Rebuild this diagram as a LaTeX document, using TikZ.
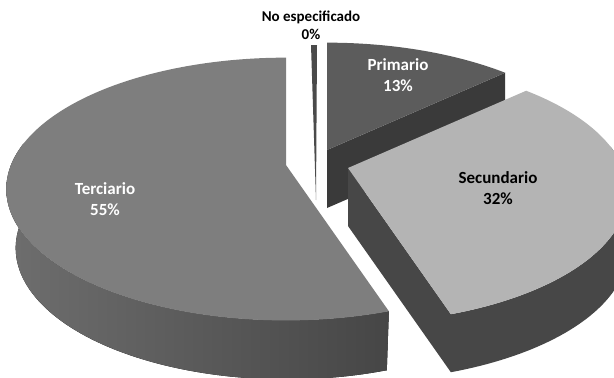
\documentclass[tikz,border=0pt]{standalone}
\usepackage{fontspec}
\setmainfont{Carlito}
\definecolor{tertop}{HTML}{7E7E7E}
\definecolor{tersideA}{HTML}{6E6E6E}
\definecolor{tersideB}{HTML}{464646}
\definecolor{pritop}{HTML}{5C5C5C}
\definecolor{priside}{HTML}{3A3A3A}
\definecolor{sectop}{HTML}{B4B4B4}
\definecolor{secside}{HTML}{474747}
\definecolor{nesp}{HTML}{4A4A4A}
\begin{document}
\begin{tikzpicture}[x=1pt,y=-1pt,
  declare function={
    rimx(\t)=275*cos(\t)/(1+0.183*sin(\t));
    rimy(\t)=-127*sin(\t)/(1+0.183*sin(\t));
  },
  lbl/.style={font=\bfseries\fontsize{17}{21}\selectfont,align=center,inner sep=0pt},
  smalllbl/.style={font=\bfseries\fontsize{15}{18}\selectfont,align=center,inner sep=0pt}]
  \useasboundingbox (0,0) rectangle (614,378);
  \clip (0,0) rectangle (614,378);
  % no especificado: thin sliver at 90 deg
  \fill[nesp] (311,45) -- (317,45) -- (316,200) -- cycle;
  % primario: cut face at 43.2 deg, top
  \fill[priside] (327,150) -- ({327+rimx(43.2)},{150+rimy(43.2)})
    -- ++(0,58) -- (327,208) -- cycle;
  \fill[pritop] (327,150) -- plot[domain=90:43.2,samples=30]
    ({327+rimx(\x)},{150+rimy(\x)}) -- cycle;
  % terciario: outer side (bottom rim a bit narrower), top
  \fill[left color=tersideA,right color=tersideB]
    plot[domain=170:288,samples=80] ({286+rimx(\x)},{165+rimy(\x)})
    -- plot[domain=288:170,samples=80] ({287+0.97*rimx(\x)},{224+rimy(\x)}) -- cycle;
  \fill[tertop] (286,165) -- plot[domain=90:288,samples=120]
    ({286+rimx(\x)},{165+rimy(\x)}) -- cycle;
  % secundario: cut face at -72 deg, outer side, top
  \fill[secside] (348,168) -- ({348+rimx(-72)},{168+rimy(-72)})
    -- ++(0,58) -- (348,226) -- cycle;
  \fill[secside]
    plot[domain=-72:10,samples=60] ({348+rimx(\x)},{168+rimy(\x)})
    -- plot[domain=10:-72,samples=60] ({348+rimx(\x)},{226+rimy(\x)}) -- cycle;
  \fill[sectop] (348,168) -- plot[domain=43.2:-72,samples=80]
    ({348+rimx(\x)},{168+rimy(\x)}) -- cycle;
  % labels
  \node[smalllbl] (nesplbl) at (311,25) {No especificado\\0\%};
  \node[lbl,text=white] (prilbl) at (398,75) {Primario\\13\%};
  \node[lbl] (seclbl) at (498,188) {Secundario\\32\%};
  \node[lbl,text=white] (terlbl) at (105,199) {Terciario\\55\%};
\end{tikzpicture}
\end{document}
